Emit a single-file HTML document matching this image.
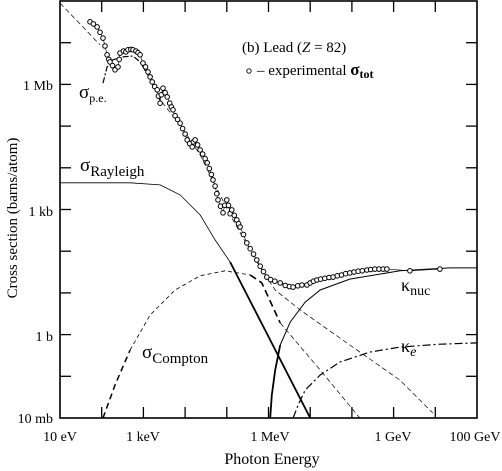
<!DOCTYPE html>
<html><head><meta charset="utf-8"><style>
html,body{margin:0;padding:0;background:#fff;}
svg{display:block;font-family:"Liberation Serif",serif;}
</style></head><body>
<svg id="chart" width="502" height="471" viewBox="0 0 502 471">
<g id="marks"></g>
<rect x="60" y="1" width="417" height="417" fill="none" stroke="#000" stroke-width="1.6"/>
<g id="ticks"></g>
<g font-size="14" fill="#000">
<text x="53" y="90" text-anchor="end">1 Mb</text>
<text x="53" y="216" text-anchor="end">1 kb</text>
<text x="53" y="341" text-anchor="end">1 b</text>
<text x="53" y="423" text-anchor="end">10 mb</text>
<text x="60" y="441" text-anchor="middle">10 eV</text>
<text x="143" y="441" text-anchor="middle">1 keV</text>
<text x="270" y="441" text-anchor="middle">1 MeV</text>
<text x="393" y="441" text-anchor="middle">1 GeV</text>
<text x="475" y="441" text-anchor="middle">100 GeV</text>
<text x="272" y="464" text-anchor="middle" font-size="16">Photon Energy</text>
<text transform="translate(17,218) rotate(-90)" text-anchor="middle" font-size="15">Cross section  (barns/atom)</text>
<text x="242" y="52" font-size="15">(b) Lead (<tspan font-style="italic">Z</tspan> = 82)</text>
<circle cx="249" cy="71" r="2.2" fill="none" stroke="#000" stroke-width="0.9"/>
<text x="257" y="75" font-size="15">– experimental <tspan font-weight="bold" font-size="17">σ</tspan><tspan font-weight="bold" font-size="12" dy="3">tot</tspan></text>
<text x="79" y="98"><tspan font-size="19">σ</tspan><tspan font-size="12" dy="4">p.e.</tspan></text>
<text x="80" y="171"><tspan font-size="19">σ</tspan><tspan font-size="15" dy="5">Rayleigh</tspan></text>
<text x="142" y="358"><tspan font-size="19">σ</tspan><tspan font-size="15" dy="5">Compton</tspan></text>
<text x="401" y="291"><tspan font-size="18">κ</tspan><tspan font-size="14" dy="4">nuc</tspan></text>
<text x="401" y="352"><tspan font-size="18">κ</tspan><tspan font-size="14" dy="4" font-style="italic">e</tspan></text>
</g>
</svg>
<script>
// data in log10(E/eV), log10(sigma/barn)
const expLogE=[1.72,1.80,1.89,1.96,2.03,2.08,2.13,2.17,2.20,2.26,2.32,2.39,2.42,2.44,2.52,2.58,2.63,2.70,2.75,2.82,2.87,2.92,2.99,3.05,3.11,3.16,3.21,3.27,3.33,3.36,3.40,3.43,3.47,3.52,3.57,3.63,3.67,3.71,3.76,3.82,3.88,3.94,4.00,4.05,4.11,4.17,4.20,4.24,4.30,4.36,4.42,4.48,4.53,4.58,4.63,4.67,4.72,4.76,4.79,4.85,4.91,4.95,5.00,5.04,5.08,5.12,5.18,5.24,5.28,5.32,5.40,5.48,5.56,5.64,5.72,5.80,5.88,5.96,6.05,6.15,6.28,6.40,6.50,6.59,6.70,6.80,6.92,7.00,7.08,7.16,7.25,7.35,7.45,7.55,7.65,7.75,7.85,7.95,8.05,8.15,8.25,8.36,8.45,8.55,8.65,8.75,8.84,9.39,10.11];
const expLogS=[7.50,7.45,7.38,7.25,7.11,6.92,6.71,6.60,6.54,6.45,6.35,6.42,6.60,6.75,6.80,6.78,6.83,6.84,6.83,6.80,6.76,6.71,6.51,6.42,6.30,6.18,6.06,5.95,5.87,5.72,5.55,5.75,5.91,5.80,5.70,5.55,5.46,5.39,5.25,5.16,5.07,4.94,4.81,4.67,4.58,4.50,4.62,4.67,4.55,4.43,4.33,4.22,4.12,3.98,3.84,3.71,3.56,3.38,3.23,3.08,2.92,3.10,3.23,3.10,2.90,2.99,2.86,2.75,2.66,2.58,2.40,2.20,2.06,1.93,1.79,1.64,1.51,1.38,1.32,1.28,1.24,1.18,1.15,1.14,1.17,1.19,1.19,1.24,1.28,1.31,1.33,1.35,1.37,1.38,1.41,1.43,1.46,1.48,1.50,1.52,1.53,1.55,1.56,1.57,1.57,1.57,1.57,1.53,1.57];
const rayLogE=[1,2.68,3.40,3.88,4.36,4.72,5.08,6.04,7.00];
const rayLogS=[3.64,3.64,3.59,3.35,2.87,2.27,1.74,-0.13,-2];
const comLogE=[2.03,2.32,2.68,3.16,3.76,4.36,4.96,5.56,5.84,6.28,7.24,8.19];
const comLogS=[-2,-1.21,-0.37,0.47,1.07,1.41,1.53,1.43,1.24,0.28,-0.85,-2];
const nucLogE=[6.04,6.08,6.16,6.28,6.52,6.88,7.24,7.95,9.15,10.35,11.0];
const nucLogS=[-2,-1.45,-0.85,-0.25,0.30,0.78,1.07,1.33,1.53,1.60,1.60];
const eleLogE=[6.59,6.71,6.88,7.24,7.71,8.43,9.15,10.11,11.0];
const eleLogS=[-2,-1.69,-1.33,-0.97,-0.66,-0.42,-0.30,-0.23,-0.20];
const peLogE=[2.03,2.13,2.27,2.51,2.75,2.92,3.09,3.40,3.88,4.36,5.08,5.72,6.16,6.76,7.95,9.15,9.94];
const peLogS=[6.03,6.42,6.59,6.66,6.68,6.54,6.25,5.63,5.03,4.31,2.87,1.74,1.07,0.59,-0.25,-1.09,-1.88];
const peUpLogE=[1.0,1.96];
const peUpLogS=[7.95,6.95];

const X0=60,Y0=418,D=41.7;
const xs=l=>X0+(l-1)*D;
const ys=l=>Y0-(l+2)*D;
const NS='http://www.w3.org/2000/svg';
const g=document.getElementById('marks');
function path(le,ls,name,sw,dash,lo,hi){
  let d='';let started=false;
  for(let i=0;i<le.length;i++){
    if(le[i]<lo||le[i]>hi)continue;
    d+=(started?'L':'M')+xs(le[i]).toFixed(1)+','+ys(ls[i]).toFixed(1);started=true;
  }
  const p=document.createElementNS(NS,'path');
  p.setAttribute('d',d);p.setAttribute('fill','none');p.setAttribute('stroke','#000');
  p.setAttribute('stroke-width',sw);if(dash)p.setAttribute('stroke-dasharray',dash);
  
  
  g.appendChild(p);
}
path(peUpLogE,peUpLogS,'pe-upper-line',0.7,'5,3',0,99);
path(peLogE,peLogS,'pe-line-low',1.2,'6,2,2,2',0,3.1);
path(peLogE,peLogS,'pe-line-high',0.7,'5,3',3.09,99);
path(rayLogE,rayLogS,'rayleigh-line-thin',0.8,null,0,5.1);
path(rayLogE,rayLogS,'rayleigh-line-thick',1.8,null,5.08,99);
path(comLogE,comLogS,'compton-line-low',1.5,'6,4',0,2.7);
path(comLogE,comLogS,'compton-line-mid',0.8,'4,3',2.68,5.6);
path(comLogE,comLogS,'compton-line-fall',1.6,'7,4',5.56,6.3);
path(comLogE,comLogS,'compton-line-high',0.7,'5,3',6.28,99);
path(nucLogE,nucLogS,'kappa-nuc-thick',1.8,null,0,6.3);
path(nucLogE,nucLogS,'kappa-nuc-line',1.0,null,6.28,99);
path(eleLogE,eleLogS,'kappa-e-line',1.2,'8,3,2,3',0,99);
path(expLogE,expLogS,'total-line',0.6,null,0,99);
for(let i=0;i<expLogE.length;i++){
  const c=document.createElementNS(NS,'circle');
  c.setAttribute('cx',xs(expLogE[i]).toFixed(1));c.setAttribute('cy',ys(expLogS[i]).toFixed(1));
  c.setAttribute('r','2.3');c.setAttribute('fill','#fff');c.setAttribute('stroke','#000');c.setAttribute('stroke-width','1');
  
  
  g.appendChild(c);
}
const t=document.getElementById('ticks');
function line(x1,y1,x2,y2,name){
  const l=document.createElementNS(NS,'line');
  l.setAttribute('x1',x1);l.setAttribute('y1',y1);l.setAttribute('x2',x2);l.setAttribute('y2',y2);
  l.setAttribute('stroke','#000');l.setAttribute('stroke-width','1.3');
  
  
  t.appendChild(l);
}
for(let k=2;k<=10;k++){const x=xs(k);line(x,Y0,x,Y0-11,'x-tick');line(x,1,x,12,'x-tick-top');}
for(let k=-1;k<=7;k++){const y=ys(k);line(X0,y,X0+11,y,'y-tick');line(477,y,466,y,'y-tick-right');}
</script>
</body></html>
